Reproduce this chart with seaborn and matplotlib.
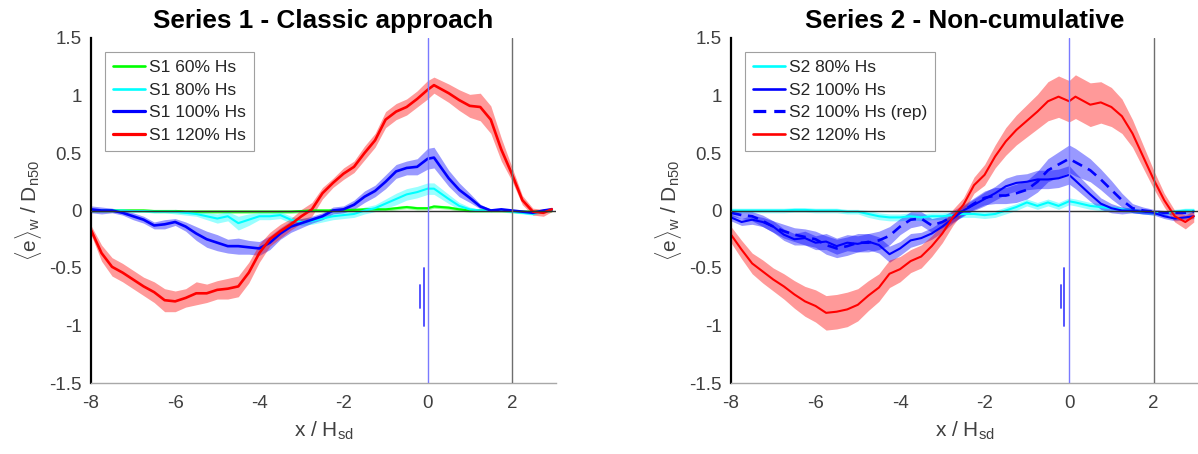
import numpy as np
import pandas as pd
import matplotlib
matplotlib.use("Agg")
import matplotlib.pyplot as plt
import seaborn as sns
from matplotlib.lines import Line2D

# ---------------- data ----------------
X = [-8, -7.75, -7.5, -7.25, -7, -6.75, -6.5, -6.25, -6, -5.75,
     -5.5, -5.25, -5, -4.75, -4.5, -4.25, -4, -3.75, -3.5, -3.25,
     -3, -2.75, -2.5, -2.25, -2, -1.75, -1.5, -1.25, -1, -0.75,
     -0.5, -0.25, 0, 0.15, 0.5, 0.75, 1, 1.25, 1.5, 1.75,
     2, 2.25, 2.5, 2.75, 2.95]

# Series 1
S1_60 = [0.0, 0.0, 0.0, 0.0, 0.0, 0.0, -0.005, -0.005, -0.005, -0.01,
         -0.01, -0.01, -0.01, -0.01, -0.01, -0.01, -0.01, -0.01, -0.01, -0.01,
         -0.005, 0.0, 0.0, 0.0, 0.005, 0.005, 0.01, 0.01, 0.01, 0.02,
         0.03, 0.02, 0.02, 0.035, 0.025, 0.01, 0.0, 0.0, 0.0, 0.0,
         -0.005, -0.01, -0.01, -0.005, 0.0]
S1_60_W = [0.015] * 45
S1_80 = [0.0, 0.0, 0.0, 0.0, -0.005, -0.005, -0.01, -0.01, -0.01, -0.02,
         -0.03, -0.05, -0.07, -0.05, -0.11, -0.08, -0.05, -0.05, -0.04, -0.08,
         -0.10, -0.09, -0.07, -0.05, -0.04, -0.03, 0.0, 0.02, 0.06, 0.10,
         0.14, 0.16, 0.19, 0.19, 0.10, 0.04, 0.01, 0.0, 0.0, 0.0,
         -0.01, -0.02, -0.03, -0.01, 0.0]
S1_80_W = [0.01, 0.01, 0.01, 0.01, 0.01, 0.01, 0.01, 0.01, 0.02, 0.02,
           0.02, 0.03, 0.04, 0.04, 0.06, 0.05, 0.03, 0.03, 0.03, 0.03,
           0.03, 0.03, 0.03, 0.03, 0.03, 0.03, 0.03, 0.03, 0.04, 0.05,
           0.05, 0.05, 0.05, 0.05, 0.04, 0.03, 0.02, 0.01, 0.01, 0.01,
           0.01, 0.01, 0.01, 0.01, 0.01]
S1_100 = [0.01, 0.0, 0.0, -0.02, -0.05, -0.08, -0.13, -0.12, -0.10, -0.14,
          -0.20, -0.25, -0.28, -0.31, -0.31, -0.32, -0.33, -0.28, -0.20, -0.14,
          -0.11, -0.08, -0.05, 0.0, 0.01, 0.05, 0.12, 0.17, 0.25, 0.34,
          0.37, 0.38, 0.45, 0.46, 0.28, 0.18, 0.11, 0.035, 0.0, 0.01,
          0.0, -0.01, -0.02, 0.0, 0.01]
S1_100_W = [0.03, 0.03, 0.02, 0.02, 0.03, 0.03, 0.03, 0.04, 0.03, 0.04,
            0.06, 0.07, 0.07, 0.06, 0.07, 0.06, 0.06, 0.06, 0.05, 0.05,
            0.04, 0.03, 0.03, 0.03, 0.03, 0.04, 0.05, 0.05, 0.06, 0.06,
            0.06, 0.07, 0.09, 0.09, 0.07, 0.06, 0.04, 0.02, 0.01, 0.01,
            0.01, 0.01, 0.01, 0.01, 0.01]
S1_120 = [-0.17, -0.37, -0.49, -0.54, -0.60, -0.66, -0.71, -0.78, -0.79, -0.76,
          -0.72, -0.72, -0.69, -0.68, -0.66, -0.54, -0.37, -0.25, -0.18, -0.12,
          -0.05, 0.01, 0.15, 0.24, 0.32, 0.38, 0.50, 0.61, 0.79, 0.86,
          0.90, 0.97, 1.05, 1.09, 1.02, 0.96, 0.91, 0.90, 0.79, 0.53,
          0.32, 0.09, -0.01, -0.02, 0.01]
S1_120_W = [0.04, 0.07, 0.08, 0.08, 0.08, 0.08, 0.09, 0.10, 0.09, 0.08,
            0.10, 0.08, 0.08, 0.09, 0.09, 0.09, 0.08, 0.06, 0.06, 0.05,
            0.06, 0.06, 0.05, 0.04, 0.05, 0.05, 0.06, 0.06, 0.07, 0.07,
            0.07, 0.07, 0.08, 0.07, 0.08, 0.09, 0.10, 0.12, 0.12, 0.10,
            0.06, 0.04, 0.03, 0.03, 0.02]

# Series 2
S2_80 = [0.0, 0.0, 0.0, 0.0, 0.0, 0.0, 0.005, 0.005, 0.0, 0.0,
         0.0, -0.01, -0.01, -0.03, -0.05, -0.06, -0.06, -0.05, -0.06, -0.05,
         -0.05, -0.04, -0.03, -0.03, -0.04, -0.03, 0.0, 0.03, 0.07, 0.04,
         0.07, 0.04, 0.08, 0.07, 0.04, 0.03, 0.02, 0.01, 0.0, -0.01,
         -0.02, -0.02, -0.01, 0.0, 0.0]
S2_80_W = [0.02, 0.02, 0.02, 0.02, 0.02, 0.02, 0.02, 0.02, 0.02, 0.02,
           0.02, 0.02, 0.02, 0.03, 0.03, 0.03, 0.03, 0.03, 0.03, 0.03,
           0.03, 0.03, 0.03, 0.03, 0.03, 0.03, 0.03, 0.03, 0.03, 0.03,
           0.03, 0.03, 0.03, 0.03, 0.03, 0.03, 0.02, 0.02, 0.02, 0.02,
           0.02, 0.02, 0.02, 0.02, 0.02]
S2_100 = [-0.06, -0.10, -0.08, -0.10, -0.14, -0.21, -0.25, -0.24, -0.28, -0.27,
          -0.31, -0.28, -0.29, -0.27, -0.30, -0.38, -0.33, -0.26, -0.24, -0.20,
          -0.14, -0.07, 0.0, 0.05, 0.10, 0.15, 0.21, 0.24, 0.25, 0.27,
          0.27, 0.28, 0.31, 0.26, 0.14, 0.06, 0.02, 0.0, 0.0, -0.01,
          -0.02, -0.05, -0.07, -0.06, -0.05]
S2_100_W = [0.03, 0.03, 0.04, 0.04, 0.05, 0.05, 0.05, 0.06, 0.06, 0.07,
            0.07, 0.07, 0.07, 0.07, 0.07, 0.07, 0.06, 0.06, 0.05, 0.05,
            0.05, 0.04, 0.04, 0.05, 0.06, 0.06, 0.07, 0.07, 0.07, 0.08,
            0.08, 0.08, 0.08, 0.07, 0.06, 0.05, 0.04, 0.03, 0.02, 0.02,
            0.02, 0.02, 0.02, 0.02, 0.02]
S2_REP = [-0.02, -0.04, -0.05, -0.09, -0.14, -0.18, -0.21, -0.23, -0.25, -0.30,
          -0.33, -0.31, -0.28, -0.28, -0.26, -0.22, -0.14, -0.08, -0.07, -0.13,
          -0.10, -0.05, 0.0, 0.06, 0.11, 0.13, 0.13, 0.15, 0.18, 0.25,
          0.35, 0.40, 0.45, 0.42, 0.35, 0.27, 0.18, 0.09, 0.02, 0.0,
          -0.01, -0.02, -0.02, -0.02, -0.01]
S2_REP_W = [0.03, 0.03, 0.04, 0.05, 0.05, 0.06, 0.06, 0.07, 0.07, 0.08,
            0.08, 0.08, 0.08, 0.08, 0.08, 0.08, 0.07, 0.07, 0.06, 0.06,
            0.05, 0.05, 0.05, 0.05, 0.06, 0.07, 0.07, 0.08, 0.08, 0.09,
            0.10, 0.11, 0.12, 0.12, 0.10, 0.09, 0.08, 0.06, 0.04, 0.03,
            0.02, 0.02, 0.02, 0.02, 0.02]
S2_120 = [-0.21, -0.34, -0.46, -0.53, -0.60, -0.66, -0.73, -0.79, -0.83, -0.89,
          -0.88, -0.86, -0.82, -0.74, -0.67, -0.55, -0.51, -0.44, -0.40, -0.31,
          -0.20, -0.06, 0.05, 0.22, 0.31, 0.47, 0.60, 0.70, 0.78, 0.86,
          0.95, 0.99, 0.95, 0.99, 0.92, 0.94, 0.90, 0.82, 0.67, 0.47,
          0.27, 0.09, -0.05, -0.10, -0.05]
S2_120_W = [0.07, 0.08, 0.09, 0.10, 0.10, 0.11, 0.12, 0.13, 0.14, 0.15,
            0.15, 0.15, 0.14, 0.13, 0.12, 0.12, 0.11, 0.10, 0.10, 0.09,
            0.08, 0.07, 0.06, 0.07, 0.09, 0.10, 0.12, 0.13, 0.14, 0.15,
            0.17, 0.18, 0.18, 0.19, 0.19, 0.18, 0.17, 0.15, 0.12, 0.10,
            0.08, 0.06, 0.05, 0.06, 0.05]

X_TICKS = [-8, -6, -4, -2, 0, 2]
Y_TICKS = [-1.5, -1, -0.5, 0, 0.5, 1, 1.5]
Y_TICK_LABELS = ["-1.5", "-1", "-0.5", "0", "0.5", "1", "1.5"]

# small vertical markers near x=0
MARK1_X = [-0.09, -0.18]
MARK2_X = [-0.12, -0.20]
MARK_Y0 = [-0.50, -0.65]
MARK_Y1 = [-1.00, -0.85]

TITLES = ["Series 1 - Classic approach", "Series 2 - Non-cumulative"]

# ---------------- style ----------------
sns.set_theme(style="white")
plt.rcParams["font.family"] = ["Liberation Sans", "DejaVu Sans"]
plt.rcParams["mathtext.fontset"] = "custom"
plt.rcParams["mathtext.rm"] = "Liberation Sans"
plt.rcParams["mathtext.it"] = "Liberation Sans:italic"
plt.rcParams["axes.unicode_minus"] = False

RED = "#ff0000"
BLUE = "#0000ff"
CYAN = "#00ffff"
GREEN = "#00ff00"

fig = plt.figure(figsize=(11.98, 4.54), dpi=100)
ax1 = fig.add_axes([91 / 1198, 71 / 454, 465 / 1198, 345 / 454])
ax2 = fig.add_axes([731 / 1198, 71 / 454, 467 / 1198, 345 / 454])

series1 = [
    ("S1 60% Hs", S1_60, S1_60_W, GREEN, "-", 1.5),
    ("S1 80% Hs", S1_80, S1_80_W, CYAN, "-", 1.5),
    ("S1 100% Hs", S1_100, S1_100_W, BLUE, "-", 1.9),
    ("S1 120% Hs", S1_120, S1_120_W, RED, "-", 1.9),
]
series2 = [
    ("S2 80% Hs", S2_80, S2_80_W, CYAN, "-", 1.5),
    ("S2 100% Hs", S2_100, S2_100_W, BLUE, "-", 1.5),
    ("S2 100% Hs (rep)", S2_REP, S2_REP_W, BLUE, (0, (4, 2.5)), 1.9),
    ("S2 120% Hs", S2_120, S2_120_W, RED, "-", 1.5),
]


def draw(ax, series, title, mx):
    handles = []
    xs = np.array(X)
    for label, ys, ws, col, ls, lw in series:
        ys = np.array(ys)
        ws = np.array(ws)
        ax.fill_between(xs, ys - ws, ys + ws, color=col, alpha=0.4,
                        linewidth=0, zorder=1)
    for label, ys, ws, col, ls, lw in series:
        df = pd.DataFrame({"x": X, "y": ys})
        sns.lineplot(data=df, x="x", y="y", ax=ax, color=col, linewidth=lw,
                     linestyle=ls, estimator=None, sort=False, zorder=2)
        handles.append(Line2D([], [], color=col, lw=lw + 0.4, linestyle=ls))
    ax.axhline(0, color="#303030", lw=1.0, zorder=3)
    ax.axvline(0, color="#7a7aff", lw=1.0, zorder=3)
    ax.axvline(2, color="#6e6e6e", lw=1.0, zorder=3)
    for xm, y0, y1 in zip(mx, MARK_Y0, MARK_Y1):
        ax.plot([xm, xm], [y0, y1], color="#4646ff", lw=1.3, zorder=3)

    ax.set_xlim(-8, 3.05)
    ax.set_ylim(-1.5, 1.5)
    ax.set_xticks(X_TICKS)
    ax.set_xticklabels([str(t) for t in X_TICKS])
    ax.set_yticks(Y_TICKS)
    ax.set_yticklabels(Y_TICK_LABELS)
    ax.tick_params(axis="both", direction="in", length=4, width=0.8,
                   color="#9a9a9a", labelsize=13.5, labelcolor="#404040")
    ax.tick_params(axis="x", pad=9)
    ax.tick_params(axis="y", pad=6.5)
    for s in ["top", "right"]:
        ax.spines[s].set_visible(False)
    ax.spines["left"].set_color("black")
    ax.spines["left"].set_linewidth(1.6)
    ax.spines["bottom"].set_color("#a8a8a8")
    ax.spines["bottom"].set_linewidth(1.0)

    ax.set_xlabel(r"x / H$_\mathrm{sd}$", fontsize=15, color="#404040")
    ax.set_ylabel(r"$\langle\mathrm{e}\rangle_\mathrm{w}$ / D$_\mathrm{n50}$",
                  fontsize=15, color="#404040")
    ax.xaxis.set_label_coords(0.5, -0.105)
    ax.yaxis.set_label_coords(-0.10, 0.5)
    ax.set_title(title, fontsize=18.8, fontweight="bold", pad=7, color="black")

    leg = ax.legend(handles, [s[0] for s in series], loc="upper left",
                    bbox_to_anchor=(0.030, 0.959), borderaxespad=0,
                    fontsize=12.5, handlelength=1.85, handletextpad=0.25,
                    labelspacing=0.43, borderpad=0.45, frameon=True,
                    fancybox=False, edgecolor="#a0a0a0", framealpha=1)
    leg.get_frame().set_linewidth(0.8)
    for t in leg.get_texts():
        t.set_color("#262626")


draw(ax1, series1, TITLES[0], MARK1_X)
draw(ax2, series2, TITLES[1], MARK2_X)

fig.savefig("out.png", dpi=100)
